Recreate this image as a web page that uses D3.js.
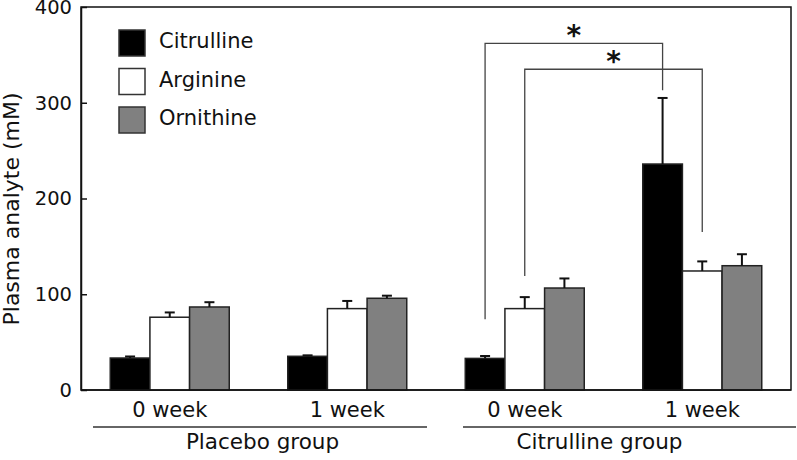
<!DOCTYPE html>
<html>
<head>
<meta charset="utf-8">
<script src="https://cdn.jsdelivr.net/npm/d3@7"></script>
<style>
    body { margin: 0; background: #fff; }
    svg { display: block; font-family: "DejaVu Sans", Verdana, sans-serif; }
</style>
</head>
<body>
<div id="chart"></div>
<script>
// Data (mean + upper error)
const timepoints = ["0 week", "1 week", "0 week", "1 week"];
const groupNames = ["Placebo group", "Citrulline group"];
const seriesNames = ["Citrulline", "Arginine", "Ornithine"];
const seriesColors = ["#000000", "#ffffff", "#808080"];

const citrulline = [33.4, 35.2, 33.0, 236];
const arginine = [76, 85, 85, 124.3];
const ornithine = [86.7, 95.8, 106.5, 129.8];
const citrullineErr = [1.6, 1.0, 2.5, 69];
const arginineErr = [5, 8, 12, 10];
const ornithineErr = [5, 2.7, 10, 12];

const yTicks = [0, 100, 200, 300, 400];

// significance brackets: [time index, series index] ends, level and drop in data units
const brackets = [
    { a: [2, 0], b: [3, 0], level: 362, dropA: 74, dropB: 313 },
    { a: [2, 1], b: [3, 1], level: 335, dropA: 119, dropB: 165 }
];

const values = [citrulline, arginine, ornithine];
const errors = [citrullineErr, arginineErr, ornithineErr];

const width = 797;
const height = 460;
const margin = { top: 7, right: 6, bottom: 70, left: 81 };

const svg = d3.select("#chart")
    .append("svg")
    .attr("width", width)
    .attr("height", height);

const x0 = d3.scaleBand()
    .domain(d3.range(timepoints.length))
    .range([margin.left, width - margin.right])
    .paddingInner(0);

const innerWidth = 119;
const x1 = d3.scaleBand()
    .domain(d3.range(seriesNames.length))
    .range([0, innerWidth]);
const groupOffset = (x0.bandwidth() - innerWidth) / 2;

const y = d3.scaleLinear()
    .domain([0, 400])
    .range([height - margin.bottom, margin.top]);

const barX = (t, s) => x0(t) + groupOffset + x1(s);
const barCx = (t, s) => barX(t, s) + x1.bandwidth() / 2;

// frame
svg.append("rect")
    .attr("x", margin.left)
    .attr("y", margin.top)
    .attr("width", width - margin.right - margin.left)
    .attr("height", y(0) - margin.top)
    .attr("fill", "none")
    .attr("stroke", "#111")
    .attr("stroke-width", 1.5);

// y axis with inward ticks
const yAxis = svg.append("g")
    .attr("transform", `translate(${margin.left},0)`)
    .call(d3.axisLeft(y).tickValues(yTicks).tickSizeInner(-6).tickSizeOuter(0).tickPadding(10));
yAxis.select(".domain").attr("stroke", "#111").attr("stroke-width", 1.5);
yAxis.selectAll(".tick line").attr("stroke", "#111").attr("stroke-width", 1.5);
yAxis.selectAll(".tick text")
    .attr("x", -9)
    .attr("font-size", 19.5)
    .attr("font-family", "DejaVu Sans, sans-serif")
    .attr("fill", "#111");

svg.append("text")
    .attr("transform", "rotate(-90)")
    .attr("x", -209)
    .attr("y", 19)
    .attr("text-anchor", "middle")
    .attr("font-size", 22)
    .attr("fill", "#111")
    .text("Plasma analyte (mM)");

// bars
seriesNames.forEach((name, s) => {
    svg.append("g")
        .selectAll("rect")
        .data(values[s])
        .enter()
        .append("rect")
        .attr("x", (d, t) => barX(t, s))
        .attr("y", d => y(d))
        .attr("width", x1.bandwidth())
        .attr("height", d => y(0) - y(d))
        .attr("fill", seriesColors[s])
        .attr("stroke", "#222")
        .attr("stroke-width", 1.5);

    // upper error bars
    const eb = svg.append("g")
        .selectAll("g")
        .data(values[s].map((v, t) => ({ v, e: errors[s][t], t })))
        .enter()
        .append("g");
    eb.append("line")
        .attr("x1", d => barCx(d.t, s))
        .attr("x2", d => barCx(d.t, s))
        .attr("y1", d => y(d.v))
        .attr("y2", d => y(d.v + d.e))
        .attr("stroke", "#111")
        .attr("stroke-width", 2);
    eb.append("line")
        .attr("x1", d => barCx(d.t, s) - 5)
        .attr("x2", d => barCx(d.t, s) + 5)
        .attr("y1", d => y(d.v + d.e))
        .attr("y2", d => y(d.v + d.e))
        .attr("stroke", "#111")
        .attr("stroke-width", 2);
});

// x axis line re-drawn on top
svg.append("line")
    .attr("x1", margin.left)
    .attr("x2", width - margin.right)
    .attr("y1", y(0))
    .attr("y2", y(0))
    .attr("stroke", "#111")
    .attr("stroke-width", 1.5);

// time labels
svg.append("g")
    .selectAll("text")
    .data(timepoints)
    .enter()
    .append("text")
    .attr("x", (d, t) => x0(t) + x0.bandwidth() / 2)
    .attr("y", 417)
    .attr("text-anchor", "middle")
    .attr("font-size", 21)
    .attr("fill", "#111")
    .text(d => d);

// group underlines and names (each group spans two time points)
const groupStart = g => x0(g * 2);
const groupEnd = g => x0(g * 2 + 1) + x0.bandwidth();
const lineInset = [[12, -9], [27, 5]];   // left inset, right overhang
const nameShift = [4, -14];
svg.append("g")
    .selectAll("line")
    .data(groupNames)
    .enter()
    .append("line")
    .attr("x1", (d, g) => groupStart(g) + lineInset[g][0])
    .attr("x2", (d, g) => groupEnd(g) + lineInset[g][1])
    .attr("y1", 427)
    .attr("y2", 427)
    .attr("stroke", "#333")
    .attr("stroke-width", 1.5);
svg.append("g")
    .selectAll("text")
    .data(groupNames)
    .enter()
    .append("text")
    .attr("x", (d, g) => (groupStart(g) + groupEnd(g)) / 2 + nameShift[g])
    .attr("y", 449)
    .attr("text-anchor", "middle")
    .attr("font-size", 21.5)
    .attr("fill", "#111")
    .text(d => d);

// significance brackets
brackets.forEach(b => {
    const xa = barCx(b.a[0], b.a[1]);
    const xb = barCx(b.b[0], b.b[1]);
    svg.append("path")
        .attr("d", `M${xa},${y(b.dropA)}V${y(b.level)}H${xb}V${y(b.dropB)}`)
        .attr("fill", "none")
        .attr("stroke", "#444")
        .attr("stroke-width", 1.3);
    svg.append("text")
        .attr("x", (xa + xb) / 2)
        .attr("y", y(b.level) + 2)
        .attr("text-anchor", "middle")
        .attr("font-size", 28)
        .attr("font-weight", "bold")
        .attr("fill", "#111")
        .text("*");
});

// legend
const legend = svg.append("g")
    .selectAll("g")
    .data(seriesNames)
    .enter()
    .append("g")
    .attr("transform", (d, i) => `translate(119, ${30 + i * 38.5})`);
legend.append("rect")
    .attr("width", 26)
    .attr("height", 26)
    .attr("fill", (d, i) => seriesColors[i])
    .attr("stroke", "#333")
    .attr("stroke-width", 1.5);
legend.append("text")
    .attr("x", 40)
    .attr("y", 18)
    .attr("font-size", 21)
    .attr("fill", "#111")
    .text(d => d);
</script>
</body>
</html>
